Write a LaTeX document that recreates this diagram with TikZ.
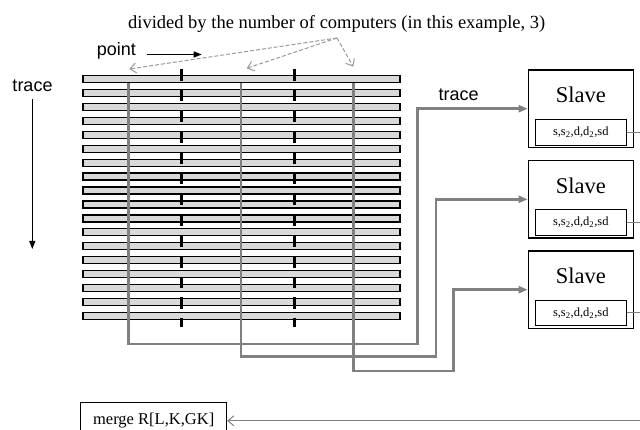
\documentclass[tikz,border=0pt]{standalone}
\usepackage{fontspec}
\setmainfont{Liberation Serif}
\setsansfont{Liberation Sans}
\usetikzlibrary{arrows.meta}
\definecolor{conngray}{HTML}{808080}
\definecolor{dashgray}{HTML}{9A9A9A}
\definecolor{barfill}{HTML}{D9D9D9}
\tikzset{
  bar/.style={draw=black, line width=1.3pt, fill=barfill},
  tickline/.style={draw=black, line width=2.5pt, dash pattern=on 11.6pt off 9.17pt},
  conn/.style={draw=conngray, line width=2.5pt, -{Triangle[length=9pt,width=7pt]}},
  hint/.style={draw=dashgray, line width=1pt, dash pattern=on 4pt off 2pt, -{Straight Barb[length=6pt,width=10pt]}},
  slavebox/.style={draw=black, line width=1.3pt, minimum width=105pt, minimum height=77.3pt, inner sep=0pt},
  valbox/.style={draw=black, line width=0.9pt, minimum width=91.7pt, minimum height=25.7pt, inner sep=0pt, font=\fontsize{12.5}{15}\selectfont},
  slavelabel/.style={inner sep=0pt, anchor=base, font=\fontsize{22.5}{26}\selectfont},
  sanslabel/.style={inner sep=0pt, font=\sffamily\fontsize{18}{22}\selectfont, anchor=base west},
  blackarrow/.style={draw=black, line width=1.2pt, -{Triangle[length=8pt,width=6pt]}},
  outline/.style={draw=conngray, line width=1pt},
}
\begin{document}
\begin{tikzpicture}[x=1pt,y=-1pt]
\useasboundingbox (0,0) rectangle (640,430);
\clip (0,0) rectangle (640,430);
% bars
\foreach \i in {0,...,17} {
  \path[bar] (83,{75.7+13.92*\i}) rectangle (400,{82.7+13.92*\i});
}
% ticks
\path[tickline] (181.3,69) -- (181.3,326.7);
\path[tickline] (294.3,69) -- (294.3,326.7);
% title and labels
\node[inner sep=0pt, anchor=base, font=\fontsize{18.5}{22}\selectfont] (title) at (336.7,28.7) {divided by the number of computers (in this example, 3)};
\node[sanslabel] (point) at (96.7,56) {point};
\coordinate (pa) at (146.7,54.5);
\coordinate (pb) at (201.7,54.5);
\path[blackarrow] (pa) -- (pb);
\node[sanslabel] (traceL) at (12.3,92) {trace};
\coordinate (ta) at (32.3,99.3);
\coordinate (tb) at (32.3,249);
\path[blackarrow] (ta) -- (tb);
\node[sanslabel] (traceM) at (438.3,100.5) {trace};
% hint arrows
\coordinate (h0) at (337,38);
\coordinate (h1) at (129.3,69);
\coordinate (h2) at (246.7,68.3);
\coordinate (h3) at (353.3,66.7);
\path[hint] (h0) -- (h1);
\path[hint] (h0) -- (h2);
\path[hint] (h0) -- (h3);
% slaves
\node[slavebox] (s1) at (580.8,108.7) {};
\node[slavebox] (s2) at (580.8,199.3) {};
\node[slavebox] (s3) at (580.8,289.7) {};
\node[slavelabel] (l1) at (580.8,102.7) {Slave};
\node[slavelabel] (l2) at (580.8,193.3) {Slave};
\node[slavelabel] (l3) at (580.8,283.7) {Slave};
\node[valbox] (v1) at (580.8,132.2) {s,s\textsubscript{2},d,d\textsubscript{2},sd};
\node[valbox] (v2) at (580.8,222.4) {s,s\textsubscript{2},d,d\textsubscript{2},sd};
\node[valbox] (v3) at (580.8,312.9) {s,s\textsubscript{2},d,d\textsubscript{2},sd};
\coordinate (r1) at (645,132.2);
\coordinate (r2) at (645,222.4);
\coordinate (r3) at (645,312.9);
\path[outline] (v1.east) -- (r1);
\path[outline] (v2.east) -- (r2);
\path[outline] (v3.east) -- (r3);
% connectors
\coordinate (t1) at (128.7,82.7);
\coordinate (t2) at (241,82.7);
\coordinate (t3) at (353.7,82.7);
\coordinate (c1) at (417.3,344);
\coordinate (c2) at (436,356.7);
\coordinate (c3) at (453.3,371);
\path[conn] (t1) |- (c1) |- (s1.west);
\path[conn] (t2) |- (c2) |- (s2.west);
\path[conn] (t3) |- (c3) |- (s3.west);
% merge
\node[draw=black, line width=0.9pt, minimum width=146pt, minimum height=36pt, inner sep=0pt, font=\fontsize{16.5}{20}\selectfont] (merge) at (153.7,420.8) {merge R[L,K,GK]};
\coordinate (m0) at (645,420.8);
\path[outline, -{Straight Barb[length=6pt,width=10pt]}] (m0) -- (merge.east);
\end{tikzpicture}
\end{document}
